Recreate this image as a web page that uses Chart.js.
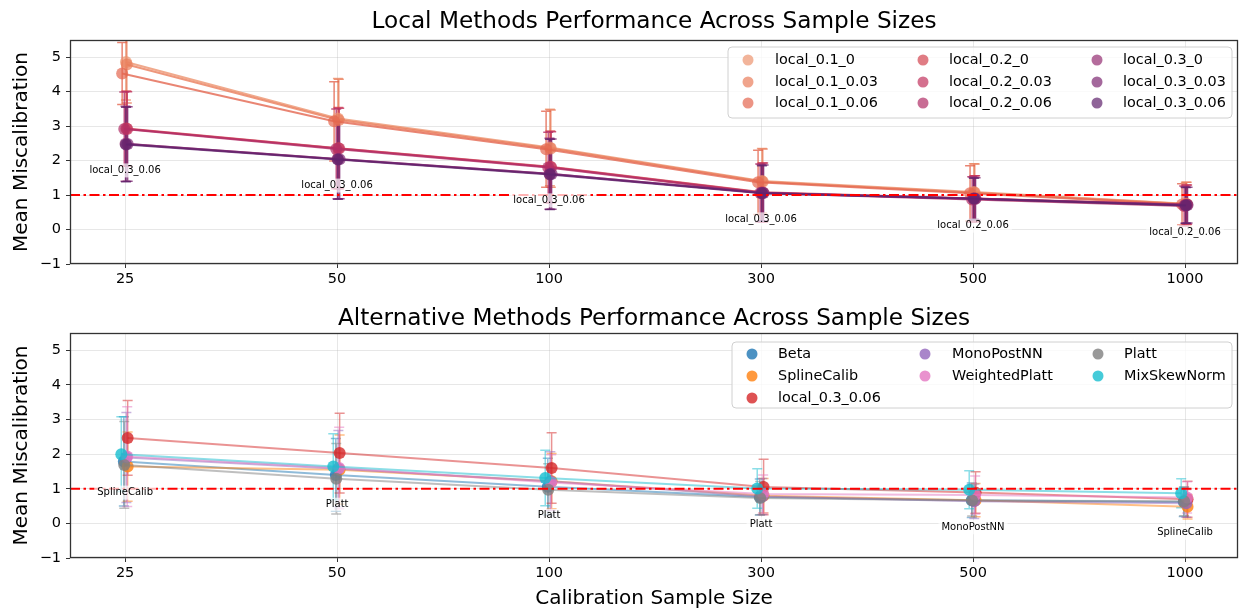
<!DOCTYPE html>
<html>
<head>
<meta charset="utf-8">
<script src="https://cdn.jsdelivr.net/npm/chart.js@4.4.1/dist/chart.umd.min.js"></script>
<style>
    html, body { margin: 0; padding: 0; background: #fff; overflow: hidden; }
    canvas { display: block; }
    #wrapTop { position: absolute; left: 0; top: 0; width: 1239px; height: 300px; }
    #wrapBottom { position: absolute; left: 0; top: 300px; width: 1239px; height: 314px; }
</style>
</head>
<body>
<div id="wrapTop"><canvas id="chartTop" width="1239" height="300"></canvas></div>
<div id="wrapBottom"><canvas id="chartBottom" width="1239" height="314"></canvas></div>
<script>
// x categories / y ticks
const sampleSizes = ['25', '50', '100', '300', '500', '1000'];
const yTicks = [-1, 0, 1, 2, 3, 4, 5];
const refLevel = 1;

// local methods (mean, error)
const local_01_0       = [4.86, 3.22, 2.38, 1.41, 1.09, 0.75];
const local_01_0_err   = [1.10, 1.16, 1.11, 0.94, 0.82, 0.62];
const local_01_003     = [4.79, 3.18, 2.35, 1.39, 1.07, 0.74];
const local_01_003_err = [1.12, 1.18, 1.12, 0.95, 0.83, 0.63];
const local_01_006     = [4.53, 3.14, 2.33, 1.37, 1.05, 0.73];
const local_01_006_err = [0.90, 1.15, 1.10, 0.93, 0.80, 0.60];
const local_02_0       = [2.93, 2.36, 1.82, 1.08, 0.90, 0.73];
const local_02_0_err   = [1.09, 1.18, 1.04, 0.85, 0.66, 0.56];
const local_02_003     = [2.92, 2.35, 1.81, 1.07, 0.89, 0.72];
const local_02_003_err = [1.08, 1.17, 1.03, 0.86, 0.67, 0.57];
const local_02_006     = [2.92, 2.34, 1.80, 1.06, 0.87, 0.68];
const local_02_006_err = [1.07, 1.16, 1.02, 0.84, 0.66, 0.58];
const local_03_0       = [2.49, 2.05, 1.62, 1.07, 0.90, 0.71];
const local_03_0_err   = [1.09, 1.16, 1.03, 0.82, 0.62, 0.53];
const local_03_003     = [2.48, 2.04, 1.61, 1.06, 0.89, 0.71];
const local_03_003_err = [1.08, 1.15, 1.02, 0.81, 0.61, 0.52];
const local_03_006     = [2.47, 2.03, 1.60, 1.05, 0.89, 0.70];
const local_03_006_err = [1.08, 1.15, 1.02, 0.80, 0.60, 0.52];

// alternative methods (mean, error)
const beta              = [1.79, 1.40, 1.06, 0.76, 0.67, 0.62];
const beta_err          = [1.29, 1.05, 0.82, 0.52, 0.50, 0.42];
const splineCalib       = [1.64, 1.55, 1.22, 0.80, 0.67, 0.48];
const splineCalib_err   = [1.00, 1.00, 0.80, 0.50, 0.48, 0.35];
const monoPostNN        = [1.90, 1.58, 1.22, 0.78, 0.64, 0.58];
const monoPostNN_err    = [1.30, 1.10, 0.85, 0.52, 0.50, 0.40];
const weightedPlatt     = [1.93, 1.60, 1.18, 0.85, 0.82, 0.75];
const weightedPlatt_err = [1.44, 1.18, 0.80, 0.55, 0.55, 0.45];
const platt             = [1.69, 1.29, 0.97, 0.73, 0.66, 0.64];
const platt_err         = [1.25, 1.02, 0.75, 0.48, 0.45, 0.42];
const mixSkewNorm       = [2.00, 1.64, 1.31, 1.01, 0.97, 0.87];
const mixSkewNorm_err   = [1.08, 0.95, 0.80, 0.57, 0.55, 0.42];

const flareColors = ['#ec946f', '#ea7d5b', '#e46750', '#d34450', '#c2335e', '#b12e67', '#942e72', '#7d2872', '#60226c'];
const tabColors = {
    blue: '#1f77b4', orange: '#ff7f0e', red: '#d62728', purple: '#9467bd',
    pink: '#e377c2', grey: '#7f7f7f', cyan: '#17becf'
};
// small horizontal dodge per series
const dodgeTop = [0.004, 0.008, -0.014, 0.006, 0.010, -0.004, 0.002, 0.012, 0.004];
const dodgeBottom = [-0.006, 0.012, 0.012, 0.006, 0.010, -0.004, -0.018];

const FONT = "'DejaVu Sans', sans-serif";

function rgba(hex, a) {
    const r = parseInt(hex.slice(1, 3), 16);
    const g = parseInt(hex.slice(3, 5), 16);
    const b = parseInt(hex.slice(5, 7), 16);
    return 'rgba(' + r + ',' + g + ',' + b + ',' + a + ')';
}

function makeSeries(label, means, errs, color, ptAlpha, lnAlpha, dodge, idx) {
    return {
        label: label,
        order: -idx,   // later series on top, like matplotlib
        errs: errs,
        data: means.map((v, i) => ({x: i + dodge, y: v})),
        borderColor: rgba(color, lnAlpha),
        backgroundColor: rgba(color, ptAlpha),
        pointBackgroundColor: rgba(color, ptAlpha),
        pointBorderColor: rgba(color, ptAlpha),
        errColor: rgba(color, lnAlpha),
        legendColor: rgba(color, ptAlpha),
        pointRadius: 6,
        pointHoverRadius: 6,
        pointBorderWidth: 0,
        borderWidth: 2,
        tension: 0
    };
}

<!-- plugins -->
const errorBarPlugin = {
    id: 'errorBars',
    beforeDatasetsDraw(chart) {
        const ctx = chart.ctx, xs = chart.scales.x, ys = chart.scales.y, area = chart.chartArea;
        ctx.save();
        ctx.beginPath();
        ctx.rect(area.left, area.top, area.right - area.left, area.bottom - area.top);
        ctx.clip();
        ctx.lineWidth = 1.5;
        chart.data.datasets.forEach(ds => {
            ctx.strokeStyle = ds.errColor;
            ds.data.forEach((p, i) => {
                const px = xs.getPixelForValue(p.x);
                const y1 = ys.getPixelForValue(p.y + ds.errs[i]);
                const y2 = ys.getPixelForValue(p.y - ds.errs[i]);
                ctx.beginPath();
                ctx.moveTo(px, y1); ctx.lineTo(px, y2);
                ctx.moveTo(px - 5, y1); ctx.lineTo(px + 5, y1);
                ctx.moveTo(px - 5, y2); ctx.lineTo(px + 5, y2);
                ctx.stroke();
            });
        });
        ctx.restore();
    }
};

const refLinePlugin = {
    id: 'refLine',
    afterDatasetsDraw(chart) {
        const ctx = chart.ctx, area = chart.chartArea;
        const y = chart.scales.y.getPixelForValue(refLevel);
        ctx.save();
        ctx.strokeStyle = '#ff0000';
        ctx.lineWidth = 2;
        ctx.setLineDash([10, 3.5, 2.5, 3.5]);
        ctx.beginPath();
        ctx.moveTo(area.left, y);
        ctx.lineTo(area.right, y);
        ctx.stroke();
        ctx.restore();
    }
};

const bestLabelPlugin = {
    id: 'bestLabel',
    afterDatasetsDraw(chart) {
        const ctx = chart.ctx, xs = chart.scales.x, ys = chart.scales.y;
        ctx.save();
        ctx.font = '10px ' + FONT;
        ctx.textAlign = 'center';
        ctx.textBaseline = 'middle';
        sampleSizes.forEach((s, i) => {
            let best = null;
            chart.data.datasets.forEach(ds => {
                if (best === null || ds.data[i].y < best.data[i].y) best = ds;
            });
            const px = xs.getPixelForValue(i);
            const py = ys.getPixelForValue(best.data[i].y) + 26;
            const w = ctx.measureText(best.label).width;
            ctx.fillStyle = 'rgba(255,255,255,0.7)';
            ctx.fillRect(px - w / 2 - 3, py - 7, w + 6, 14);
            ctx.fillStyle = '#000';
            ctx.fillText(best.label, px, py);
        });
        ctx.restore();
    }
};

const framePlugin = {
    id: 'frame',
    afterDraw(chart, args, opts) {
        const ctx = chart.ctx, a = chart.chartArea;
        ctx.save();
        ctx.strokeStyle = '#333';
        ctx.lineWidth = 1.3;
        ctx.strokeRect(Math.round(a.left) + 0.5, Math.round(a.top) + 0.5,
            Math.round(a.right - a.left) - 1, Math.round(a.bottom - a.top) - 1);
        // title centred over the plot area
        ctx.fillStyle = '#000';
        ctx.font = '23.2px ' + FONT;
        ctx.textAlign = 'center';
        ctx.textBaseline = 'middle';
        ctx.fillText(opts.text, (a.left + a.right) / 2, opts.y);
        ctx.restore();
    }
};

const boxLegendPlugin = {
    id: 'boxLegend',
    afterDraw(chart, args, opts) {
        const ctx = chart.ctx;
        const dsets = chart.data.datasets;
        ctx.save();
        // frame
        const r = 4, x0 = opts.left, y0 = opts.top, x1 = opts.right, y1 = opts.bottom;
        ctx.beginPath();
        ctx.moveTo(x0 + r, y0);
        ctx.arcTo(x1, y0, x1, y1, r);
        ctx.arcTo(x1, y1, x0, y1, r);
        ctx.arcTo(x0, y1, x0, y0, r);
        ctx.arcTo(x0, y0, x1, y0, r);
        ctx.closePath();
        ctx.fillStyle = 'rgba(255,255,255,0.8)';
        ctx.fill();
        ctx.strokeStyle = '#d0d0d0';
        ctx.lineWidth = 1;
        ctx.stroke();
        // items, column major
        ctx.font = '14.4px ' + FONT;
        ctx.textBaseline = 'middle';
        ctx.textAlign = 'left';
        let idx = 0;
        opts.colSizes.forEach((n, c) => {
            for (let k = 0; k < n; k++) {
                const ds = dsets[idx++];
                const y = opts.rowY[k];
                ctx.fillStyle = ds.legendColor;
                ctx.beginPath();
                ctx.arc(opts.markX[c], y, 5.5, 0, Math.PI * 2);
                ctx.fill();
                ctx.fillStyle = '#000';
                ctx.fillText(ds.label, opts.textX[c], y);
            }
        });
        ctx.restore();
    }
};

function buildOptions(titleText, titleY, topPad, xTitle, xHeight, legendOpts) {
    return {
        responsive: false,
        animation: false,
        devicePixelRatio: 1,
        layout: {autoPadding: false, padding: {left: 0, right: 1, top: topPad, bottom: 0}},
        plugins: {
            legend: {display: false},
            tooltip: {enabled: false},
            title: {display: false},
            frame: {text: titleText, y: titleY},
            boxLegend: legendOpts
        },
        scales: {
            x: {
                type: 'linear',
                min: -0.26,
                max: 5.25,
                afterBuildTicks: (scale) => { scale.ticks = sampleSizes.map((s, i) => ({value: i})); },
                afterFit: (scale) => { scale.height = xHeight; scale.paddingLeft = 0; scale.paddingRight = 0; },
                ticks: {
                    color: '#000',
                    font: {family: FONT, size: 14.5},
                    padding: 3,
                    maxRotation: 0,
                    autoSkip: false,
                    callback: (v) => sampleSizes[v]
                },
                grid: {color: 'rgba(176,176,176,0.3)', lineWidth: 1, tickLength: 4, tickColor: '#333', drawTicks: true},
                border: {display: false},
                title: {
                    display: xTitle !== '',
                    text: xTitle,
                    color: '#000',
                    font: {family: FONT, size: 20},
                    padding: {top: 0, bottom: 3}
                }
            },
            y: {
                min: -1,
                max: 5.5,
                afterBuildTicks: (scale) => { scale.ticks = yTicks.map(v => ({value: v})); },
                afterFit: (scale) => { scale.width = 70; },
                ticks: {
                    color: '#000',
                    font: {family: FONT, size: 14.5},
                    padding: 5,
                    callback: (v) => (v < 0 ? '\u2212' + Math.abs(v) : String(v))
                },
                grid: {color: 'rgba(176,176,176,0.3)', lineWidth: 1, tickLength: 4, tickColor: '#333', drawTicks: true},
                border: {display: false},
                title: {
                    display: true,
                    text: 'Mean Miscalibration',
                    color: '#000',
                    font: {family: FONT, size: 20},
                    padding: {top: 10, bottom: 0}
                }
            }
        }
    };
}

const topNames = ['local_0.1_0', 'local_0.1_0.03', 'local_0.1_0.06', 'local_0.2_0', 'local_0.2_0.03',
    'local_0.2_0.06', 'local_0.3_0', 'local_0.3_0.03', 'local_0.3_0.06'];
const topMeans = [local_01_0, local_01_003, local_01_006, local_02_0, local_02_003, local_02_006,
    local_03_0, local_03_003, local_03_006];
const topErrs = [local_01_0_err, local_01_003_err, local_01_006_err, local_02_0_err, local_02_003_err,
    local_02_006_err, local_03_0_err, local_03_003_err, local_03_006_err];

const topDatasets = topNames.map((n, i) =>
    makeSeries(n, topMeans[i], topErrs[i], flareColors[i], 0.7, 0.8, dodgeTop[i], i));

const bottomDatasets = [
    makeSeries('Beta', beta, beta_err, tabColors.blue, 0.8, 0.5, dodgeBottom[0], 0),
    makeSeries('SplineCalib', splineCalib, splineCalib_err, tabColors.orange, 0.8, 0.5, dodgeBottom[1], 1),
    makeSeries('local_0.3_0.06', local_03_006, local_03_006_err, tabColors.red, 0.8, 0.5, dodgeBottom[2], 2),
    makeSeries('MonoPostNN', monoPostNN, monoPostNN_err, tabColors.purple, 0.8, 0.5, dodgeBottom[3], 3),
    makeSeries('WeightedPlatt', weightedPlatt, weightedPlatt_err, tabColors.pink, 0.8, 0.5, dodgeBottom[4], 4),
    makeSeries('Platt', platt, platt_err, tabColors.grey, 0.8, 0.5, dodgeBottom[5], 5),
    makeSeries('MixSkewNorm', mixSkewNorm, mixSkewNorm_err, tabColors.cyan, 0.8, 0.5, dodgeBottom[6], 6)
];

const plugins = [errorBarPlugin, refLinePlugin, bestLabelPlugin, framePlugin, boxLegendPlugin];

new Chart(document.getElementById('chartTop'), {
    type: 'line',
    data: {datasets: topDatasets},
    options: buildOptions('Local Methods Performance Across Sample Sizes', 22, 40, '', 36, {
        left: 728, top: 47, right: 1232, bottom: 118,
        colSizes: [3, 3, 3],
        rowY: [60, 82, 103],
        markX: [748, 923, 1097],
        textX: [775, 949, 1123]
    }),
    plugins: plugins
});

new Chart(document.getElementById('chartBottom'), {
    type: 'line',
    data: {datasets: bottomDatasets},
    options: buildOptions('Alternative Methods Performance Across Sample Sizes', 19, 33, 'Calibration Sample Size', 56, {
        left: 732, top: 42, right: 1232, bottom: 108,
        colSizes: [3, 2, 2],
        rowY: [54, 76, 98],
        markX: [752, 925, 1098],
        textX: [778, 952, 1124]
    }),
    plugins: plugins
});
</script>
</body>
</html>
